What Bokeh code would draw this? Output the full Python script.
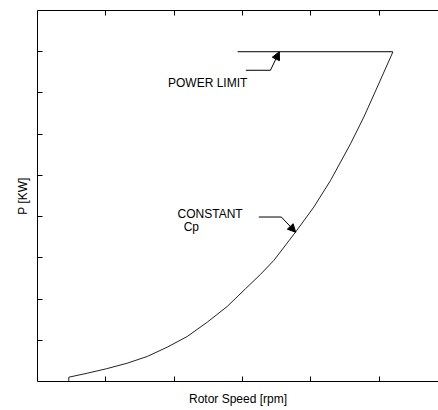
from bokeh.plotting import figure
from bokeh.models import LinearAxis, FixedTicker, Range1d, Arrow, NormalHead, Label, CustomJSTickFormatter
from bokeh.embed import file_html
from bokeh.resources import INLINE

# Constant-Cp curve (rotor speed vs power)
speed = [0.458, 0.458, 0.728, 1.006, 1.313, 1.606, 1.899, 2.192, 2.485, 2.777, 3.045,
         3.265, 3.460, 3.777, 4.045, 4.290, 4.583, 4.777, 4.974, 5.202]
power = [0.000, 0.104, 0.201, 0.308, 0.444, 0.607, 0.833, 1.092, 1.439, 1.820, 2.250,
         2.600, 2.937, 3.624, 4.231, 4.879, 5.769, 6.415, 7.143, 7.993]

# Power limit line
limit_speed = [2.93, 5.202]
limit_power = [8.0, 8.0]

x_ticks = [1, 2, 3, 4, 5]
y_ticks = [1, 2, 3, 4, 5, 6, 7, 8]

# annotation leaders: horizontal part then arrow to curve
pl_leader_x = [3.05, 3.41]
pl_leader_y = [7.55, 7.55]
pl_tip = (3.54, 8.0)
cp_leader_x = [3.24, 3.57]
cp_leader_y = [3.99, 3.99]
cp_tip = (3.78, 3.62)

FONT = "Liberation Sans"

p = figure(width=438, height=410, x_range=Range1d(0, 5.87), y_range=Range1d(0, 9),
           output_backend="svg", toolbar_location=None,
           x_axis_location=None, y_axis_location=None,
           min_border_left=37, min_border_right=0, min_border_top=10, min_border_bottom=29)
p.outline_line_color = None
p.grid.visible = False
p.background_fill_color = "white"
p.border_fill_color = "white"

bottom = LinearAxis(axis_label="Rotor Speed [rpm]", axis_label_standoff=10)
top = LinearAxis()
left = LinearAxis(axis_label="P [KW]", axis_label_standoff=8)
p.add_layout(bottom, "below")
p.add_layout(top, "above")
p.add_layout(left, "left")

blank = CustomJSTickFormatter(code="return ''")
for ax, ticks in ((bottom, x_ticks), (top, x_ticks), (left, y_ticks)):
    ax.ticker = FixedTicker(ticks=ticks)
    ax.formatter = blank
    ax.major_tick_in = 5
    ax.major_tick_out = 0
    ax.minor_tick_in = 0
    ax.minor_tick_out = 0
    ax.major_label_standoff = 0
    ax.major_label_text_font_size = "1px"
    ax.axis_line_color = "black"
    ax.major_tick_line_color = "black"
    ax.axis_label_text_font = FONT
    ax.axis_label_text_font_size = "12px"
    ax.axis_label_text_font_style = "normal"
    ax.axis_label_text_color = "black"

p.line(speed, power, line_color="#222222", line_width=1)
p.line(limit_speed, limit_power, line_color="black", line_width=1)

p.line(pl_leader_x, pl_leader_y, line_color="black", line_width=1)
p.add_layout(Arrow(end=NormalHead(size=8, fill_color="black", line_color="black"),
                   x_start=pl_leader_x[1], y_start=pl_leader_y[1], x_end=pl_tip[0], y_end=pl_tip[1],
                   line_color="black", line_width=1))
p.line(cp_leader_x, cp_leader_y, line_color="black", line_width=1)
p.add_layout(Arrow(end=NormalHead(size=8, fill_color="black", line_color="black"),
                   x_start=cp_leader_x[1], y_start=cp_leader_y[1], x_end=cp_tip[0], y_end=cp_tip[1],
                   line_color="black", line_width=1))

for x, y, t in ((1.91, 7.23, "POWER LIMIT"), (2.05, 4.07, "CONSTANT"), (2.14, 3.74, "Cp")):
    p.add_layout(Label(x=x, y=y, text=t, text_font=FONT, text_font_size="12px",
                       text_baseline="middle", text_align="left", text_color="black"))

open("out.html", "w").write(file_html(p, INLINE))
